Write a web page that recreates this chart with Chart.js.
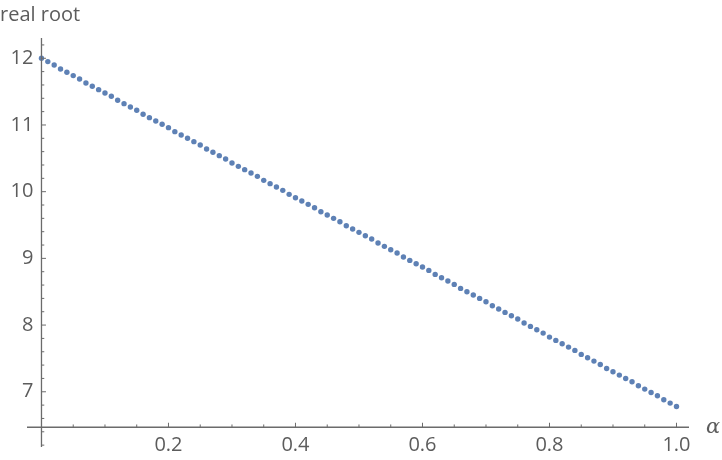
<!DOCTYPE html>
<html lang="en">
<head>
    <meta charset="UTF-8">
    <title>Real root vs alpha</title>
    <script src="https://cdn.jsdelivr.net/npm/chart.js"></script>
    <style>
        html, body {
            margin: 0;
            padding: 0;
            background: #ffffff;
        }
        .chart-box {
            position: relative;
            width: 722px;
            height: 460px;
        }
    </style>
</head>
<body>
    <div class="chart-box">
        <canvas id="rootChart"></canvas>
    </div>

    <script>
        // alpha values (x) and the real root (y)
        const alphas = [
            0.00, 0.01, 0.02, 0.03, 0.04, 0.05, 0.06, 0.07, 0.08, 0.09,
            0.10, 0.11, 0.12, 0.13, 0.14, 0.15, 0.16, 0.17, 0.18, 0.19,
            0.20, 0.21, 0.22, 0.23, 0.24, 0.25, 0.26, 0.27, 0.28, 0.29,
            0.30, 0.31, 0.32, 0.33, 0.34, 0.35, 0.36, 0.37, 0.38, 0.39,
            0.40, 0.41, 0.42, 0.43, 0.44, 0.45, 0.46, 0.47, 0.48, 0.49,
            0.50, 0.51, 0.52, 0.53, 0.54, 0.55, 0.56, 0.57, 0.58, 0.59,
            0.60, 0.61, 0.62, 0.63, 0.64, 0.65, 0.66, 0.67, 0.68, 0.69,
            0.70, 0.71, 0.72, 0.73, 0.74, 0.75, 0.76, 0.77, 0.78, 0.79,
            0.80, 0.81, 0.82, 0.83, 0.84, 0.85, 0.86, 0.87, 0.88, 0.89,
            0.90, 0.91, 0.92, 0.93, 0.94, 0.95, 0.96, 0.97, 0.98, 0.99,
            1.00
        ];
        const realRoot = [
            12.00, 11.95, 11.90, 11.84, 11.79, 11.74, 11.69, 11.63, 11.58, 11.53,
            11.48, 11.43, 11.37, 11.32, 11.27, 11.22, 11.16, 11.11, 11.06, 11.01,
            10.96, 10.90, 10.85, 10.80, 10.75, 10.70, 10.64, 10.59, 10.54, 10.49,
            10.43, 10.38, 10.33, 10.28, 10.23, 10.17, 10.12, 10.07, 10.02, 9.96,
            9.91, 9.86, 9.81, 9.76, 9.70, 9.65, 9.60, 9.55, 9.49, 9.44,
            9.39, 9.34, 9.29, 9.23, 9.18, 9.13, 9.08, 9.02, 8.97, 8.92,
            8.87, 8.82, 8.76, 8.71, 8.66, 8.61, 8.55, 8.50, 8.45, 8.40,
            8.35, 8.29, 8.24, 8.19, 8.14, 8.09, 8.03, 7.98, 7.93, 7.88,
            7.82, 7.77, 7.72, 7.67, 7.62, 7.56, 7.51, 7.46, 7.41, 7.35,
            7.30, 7.25, 7.20, 7.15, 7.09, 7.04, 6.99, 6.94, 6.88, 6.83,
            6.78
        ];

        // tick labels
        const xMajorTicks = [0.2, 0.4, 0.6, 0.8, 1.0];
        const xMinorTicks = [0.05, 0.1, 0.15, 0.25, 0.3, 0.35, 0.45, 0.5, 0.55,
                             0.65, 0.7, 0.75, 0.85, 0.9, 0.95];
        const yMajorTicks = [7, 8, 9, 10, 11, 12];
        const yMinorTicks = [6.2, 6.4, 6.6, 6.8, 7.2, 7.4, 7.6, 7.8, 8.2, 8.4, 8.6, 8.8,
                             9.2, 9.4, 9.6, 9.8, 10.2, 10.4, 10.6, 10.8, 11.2, 11.4,
                             11.6, 11.8, 12.2];

        const axisColor = '#6b6b6b';
        const labelColor = '#5c5c5c';
        const fontFamily = '"Open Sans", "DejaVu Sans", sans-serif';
        const axisCrossY = 6.468; // where the horizontal axis sits

        // draws Mathematica style axes crossing at (0, axisCrossY)
        const crossAxes = {
            id: 'crossAxes',
            afterDraw(chart) {
                const ctx = chart.ctx;
                const xs = chart.scales.x;
                const ys = chart.scales.y;
                const area = chart.chartArea;
                const x0 = xs.getPixelForValue(0);
                const y0 = ys.getPixelForValue(axisCrossY);

                ctx.save();
                ctx.strokeStyle = axisColor;
                ctx.lineWidth = 1.3;

                // axis lines
                ctx.beginPath();
                ctx.moveTo(area.left, y0);
                ctx.lineTo(area.right, y0);
                ctx.moveTo(x0, area.top);
                ctx.lineTo(x0, area.bottom);
                ctx.stroke();

                // x ticks point upward
                ctx.lineWidth = 1;
                ctx.beginPath();
                xMajorTicks.forEach(v => {
                    const px = xs.getPixelForValue(v);
                    ctx.moveTo(px, y0);
                    ctx.lineTo(px, y0 - 4.5);
                });
                xMinorTicks.forEach(v => {
                    const px = xs.getPixelForValue(v);
                    ctx.moveTo(px, y0);
                    ctx.lineTo(px, y0 - 2.8);
                });
                // y ticks point right
                yMajorTicks.forEach(v => {
                    const py = ys.getPixelForValue(v);
                    ctx.moveTo(x0, py);
                    ctx.lineTo(x0 + 4.5, py);
                });
                yMinorTicks.forEach(v => {
                    const py = ys.getPixelForValue(v);
                    ctx.moveTo(x0, py);
                    ctx.lineTo(x0 + 2.8, py);
                });
                ctx.stroke();

                // tick labels
                ctx.fillStyle = labelColor;
                ctx.font = '20px ' + fontFamily;
                ctx.textAlign = 'center';
                ctx.textBaseline = 'middle';
                xMajorTicks.forEach(v => {
                    ctx.fillText(v.toFixed(1), xs.getPixelForValue(v), y0 + 18);
                });
                ctx.textAlign = 'right';
                yMajorTicks.forEach(v => {
                    ctx.fillText(String(v), x0 - 8, ys.getPixelForValue(v));
                });

                // axis labels
                ctx.textAlign = 'left';
                ctx.font = '20px ' + fontFamily;
                ctx.fillText('real root', 0, 15);
                ctx.font = 'italic 21px "DejaVu Serif", serif';
                ctx.fillText('α', 706, y0);
                ctx.restore();
            }
        };

        const points = alphas.map((a, i) => ({ x: a, y: realRoot[i] }));

        new Chart(document.getElementById('rootChart'), {
            type: 'scatter',
            data: {
                datasets: [{
                    label: 'real root',
                    data: points,
                    backgroundColor: '#5e81b5',
                    borderWidth: 0,
                    pointRadius: 2.7,
                    pointHoverRadius: 2.7
                }]
            },
            options: {
                responsive: true,
                maintainAspectRatio: false,
                animation: false,
                events: [],
                layout: {
                    padding: { left: 27, right: 33, top: 38, bottom: 13 }
                },
                scales: {
                    x: { type: 'linear', min: -0.0228, max: 1.0197, display: false },
                    y: { type: 'linear', min: 6.172, max: 12.304, display: false }
                },
                plugins: {
                    legend: { display: false },
                    tooltip: { enabled: false }
                }
            },
            plugins: [crossAxes]
        });
    </script>
</body>
</html>
